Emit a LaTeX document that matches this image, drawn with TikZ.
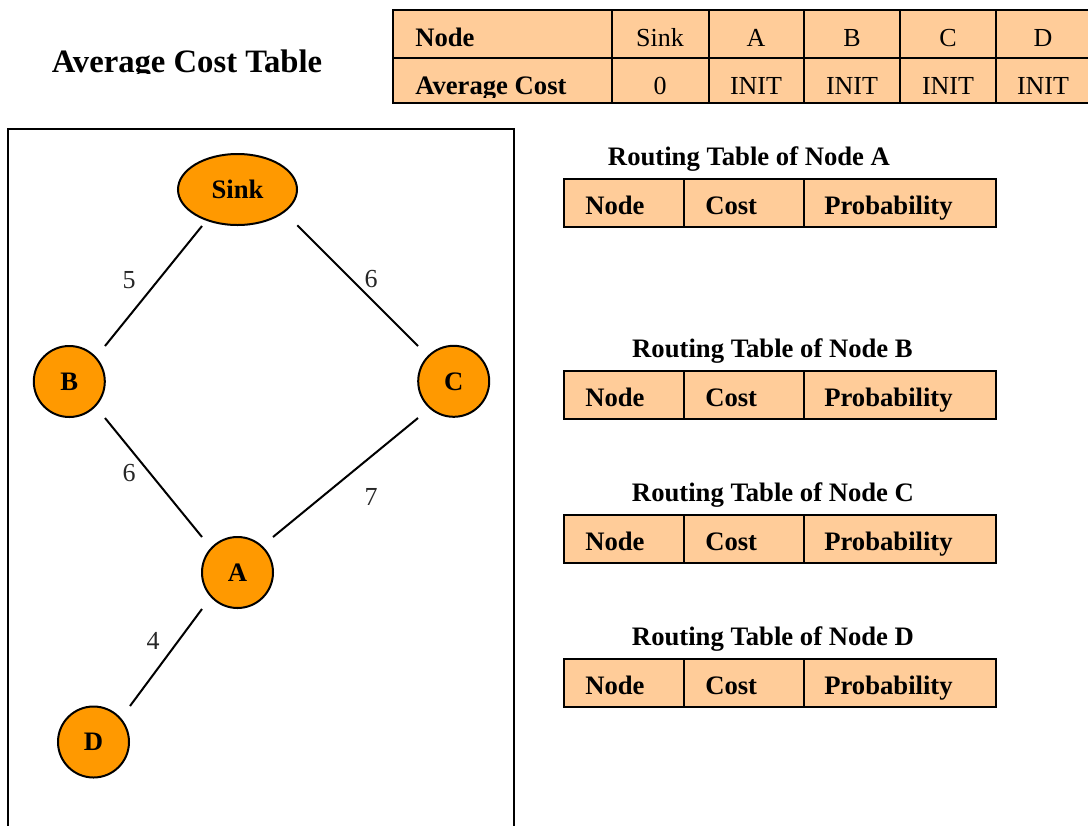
\documentclass[tikz,border=0pt]{standalone}
\usepackage{fontspec}
\setmainfont{Liberation Serif}
\usetikzlibrary{shapes.geometric,calc}
\definecolor{nodeorange}{HTML}{FF9900}
\definecolor{tablefill}{HTML}{FFCC99}
\begin{document}
\begin{tikzpicture}[x=0.75pt,y=-0.75pt,
  txt/.style={font=\fontsize{19.5}{23}\selectfont, inner sep=0},
  btxt/.style={font=\fontsize{20}{24}\selectfont\bfseries, inner sep=0},
  vertex/.style={circle, draw=black, line width=1.5pt, fill=nodeorange, minimum size=53.25pt, inner sep=0, font=\fontsize{20}{24}\selectfont\bfseries},
  sinknode/.style={ellipse, draw=black, line width=1.5pt, fill=nodeorange, minimum width=89.25pt, minimum height=53.25pt, inner sep=0, font=\fontsize{20}{24}\selectfont\bfseries},
  edge/.style={line width=1.5pt},
  tbl/.style={fill=tablefill, draw=black, line width=1.5pt},
  tline/.style={draw=black, line width=1.5pt},
  wlabel/.style={txt, text=black!85},
]
\useasboundingbox (0,0) rectangle (1088,825);

% ---- Title ----
\begin{scope}
  \clip (0,0) rectangle (390,73.5);
  \node[font=\fontsize{24.5}{28}\selectfont\bfseries, inner sep=0, anchor=base] (title) at (187,72) {Average Cost Table};
\end{scope}

% ---- Average cost table ----
\path[tbl] (393,10) rectangle (1095,103);
\draw[tline] (393,58) -- (1095,58);
\foreach \xx in {612,709,804,900,996} \draw[tline] (\xx,10) -- (\xx,103);
\node[btxt, anchor=base west] (hNode) at (415,46) {Node};
\node[txt, anchor=base] (hSink) at (660,46) {Sink};
\node[txt, anchor=base] (hA) at (756,46) {A};
\node[txt, anchor=base] (hB) at (852,46) {B};
\node[txt, anchor=base] (hC) at (948,46) {C};
\node[txt, anchor=base] (hD) at (1043,46) {D};
\begin{scope}
  \clip (393,58) rectangle (1095,97.5);
  \node[btxt, anchor=base west] (cAvg) at (415,94) {Average Cost};
  \node[txt, anchor=base] (cSink) at (660,94) {0};
  \node[txt, anchor=base] (cA) at (756,94) {INIT};
  \node[txt, anchor=base] (cB) at (852,94) {INIT};
  \node[txt, anchor=base] (cC) at (948,94) {INIT};
  \node[txt, anchor=base] (cD) at (1043,94) {INIT};
\end{scope}

% ---- Graph frame ----
\draw[line width=1.5pt] (8,835) -- (8,129) -- (514,129) -- (514,835);

% ---- Nodes ----
\node[sinknode] (Sink) at (237.5,189.5) {Sink};
\node[vertex] (B) at (69.3,381.5) {B};
\node[vertex] (C) at (453.7,381.3) {C};
\node[vertex] (A) at (237.5,572.5) {A};
\node[vertex] (D) at (93.5,742) {D};

% ---- Edges ----
\draw[edge] ($(Sink)+(-35.5,36.5)$) -- ($(B)+(35.7,-35.5)$);
\draw[edge] ($(Sink)+(59.8,35.8)$) -- ($(C)+(-35.7,-35.3)$);
\draw[edge] ($(B)+(35.7,36.5)$) -- ($(A)+(-35.5,-35.5)$);
\draw[edge] ($(C)+(-35.7,36.7)$) -- ($(A)+(35.5,-35.5)$);
\draw[edge] ($(A)+(-35.5,36.5)$) -- ($(D)+(36.5,-36)$);

% ---- Edge labels ----
\node[wlabel] (w5) at (129,280) {5};
\node[wlabel] (w6a) at (371,279) {6};
\node[wlabel] (w6b) at (129,473) {6};
\node[wlabel] (w7) at (371,497) {7};
\node[wlabel] (w4) at (153,641) {4};

% ---- Routing tables ----
\foreach \ty/\lbl/\tx in {179/A/749,371/B/772.5,515/C/773,659/D/773}{
  \node[btxt, anchor=base] (rt\lbl) at (\tx,\ty-14) {Routing Table of Node \lbl};
  \path[tbl] (564,\ty) rectangle (996,\ty+48);
  \draw[tline] (684,\ty) -- (684,\ty+48);
  \draw[tline] (804,\ty) -- (804,\ty+48);
  \begin{scope}
    \clip (564,\ty) rectangle (996,\ty+43);
    \node[btxt, anchor=base west] (rn\lbl) at (585,\ty+35) {Node};
    \node[btxt, anchor=base west] (rc\lbl) at (705,\ty+35) {Cost};
    \node[btxt, anchor=base west] (rp\lbl) at (824,\ty+35) {Probability};
  \end{scope}
}
\end{tikzpicture}
\end{document}
